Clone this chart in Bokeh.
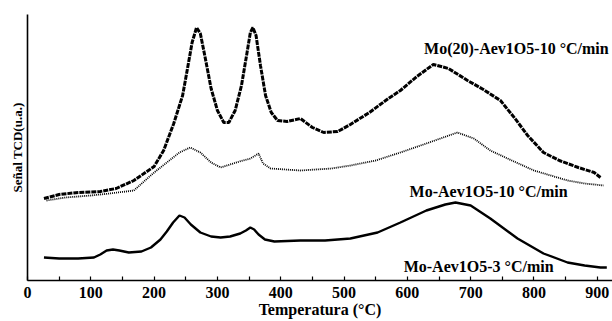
from bokeh.plotting import figure
from bokeh.models import Range1d, FixedTicker
from bokeh.core.properties import value
from bokeh.embed import file_html
from bokeh.resources import INLINE

# Curve 1: Mo(20)-Aev1O5-10 °C/min
t1 = [26, 50, 80, 115, 140, 168, 200, 215, 231, 245, 253, 260, 267, 273, 280, 290, 300, 310, 318,
      328, 338, 346, 352, 356, 361, 368, 376, 385, 395, 410, 431, 450, 468, 490, 510, 540, 570,
      589, 615, 641, 665, 695, 720, 747, 770, 790, 815, 840, 870, 895, 905]
s1 = [82, 86, 88, 89, 92, 100, 114, 130, 157, 185, 213, 238, 253, 247, 225, 192, 170, 158, 158,
      170, 195, 225, 248, 253, 245, 215, 185, 168, 160, 159, 162, 153, 148, 149, 156, 168, 182,
      190, 204, 216, 212, 200, 191, 180, 162, 145, 128, 120, 113, 108, 103]

# Curve 2: Mo-Aev1O5-10 °C/min
t2 = [30, 60, 100, 130, 168, 200, 220, 240, 257, 273, 290, 305, 320, 340, 352, 365, 372, 384,
      431, 480, 510, 550, 589, 630, 679, 705, 731, 765, 800, 853, 880, 910]
s2 = [80, 83, 85, 87, 90, 108, 118, 128, 133, 128, 118, 113, 116, 120, 122, 127, 117, 112,
      110, 112, 115, 120, 128, 137, 148, 142, 130, 120, 110, 100, 97, 95]

# Curve 3: Mo-Aev1O5-3 °C/min
t3 = [26, 50, 80, 105, 115, 125, 135, 145, 160, 180, 195, 210, 220, 230, 240, 248, 258, 273,
      290, 305, 320, 336, 345, 352, 358, 365, 375, 390, 431, 470, 510, 553, 589, 630, 660, 676,
      700, 731, 774, 815, 853, 880, 905, 915]
s3 = [23, 22, 22, 23, 26, 30, 31, 30, 28, 29, 33, 41, 49, 58, 65, 63, 56, 48,
      44, 43, 44, 47, 50, 53, 51, 46, 41, 39, 40, 40, 42, 48, 58, 70, 76, 78,
      75, 62, 42, 27, 18, 15, 13, 13]

labels = ["Mo(20)-Aev1O5-10 °C/min", "Mo-Aev1O5-10 °C/min", "Mo-Aev1O5-3 °C/min"]
x_ticks = [0, 100, 200, 300, 400, 500, 600, 700, 800, 900]

FONT = "Liberation Serif"

p = figure(width=612, height=321, output_backend="svg", toolbar_location=None,
           x_range=Range1d(0, 924), y_range=Range1d(0, 266),
           min_border_left=27, min_border_right=0, min_border_top=14, min_border_bottom=41)
p.outline_line_color = None
p.grid.visible = False
p.background_fill_color = "white"
p.border_fill_color = "white"

p.line(t1, s1, line_color="black", line_width=3, line_dash="5 1")
p.line(t2, s2, line_color="black", line_width=1.8, line_dash="1 1")
p.line(t3, s3, line_color="black", line_width=2.4)

# labels (right-aligned)
p.text(x=[918, 853, 831], y=[232, 89, 14], text=labels,
       text_font=value(FONT), text_font_style="bold", text_font_size="16px",
       text_align="right", text_baseline="middle", text_color="black")

xa = p.xaxis[0]
xa.ticker = FixedTicker(ticks=x_ticks, minor_ticks=list(range(50, 951, 100)))
xa.axis_line_width = 1.6
xa.axis_line_color = "black"
xa.major_tick_in = 4
xa.major_tick_out = 0
xa.minor_tick_in = 4
xa.minor_tick_out = 0
xa.major_tick_line_width = 1.2
xa.minor_tick_line_width = 1.2
xa.major_label_text_font = FONT
xa.major_label_text_font_style = "bold"
xa.major_label_text_font_size = "16px"
xa.major_label_text_color = "black"
xa.major_label_standoff = 6
xa.axis_label = "Temperatura (°C)"
xa.axis_label_text_font = FONT
xa.axis_label_text_font_style = "bold"
xa.axis_label_text_font_size = "16px"
xa.axis_label_text_color = "black"
xa.axis_label_standoff = 0

ya = p.yaxis[0]
ya.ticker = FixedTicker(ticks=[])
ya.major_tick_in = 0
ya.major_tick_out = 0
ya.minor_tick_in = 0
ya.minor_tick_out = 0
ya.major_label_text_font_size = "0px"
ya.axis_line_width = 1.6
ya.axis_line_color = "black"
ya.axis_label = "Señal TCD(u.a.)"
ya.axis_label_text_font = FONT
ya.axis_label_text_font_style = "bold"
ya.axis_label_text_font_size = "13px"
ya.axis_label_text_color = "black"
ya.axis_label_standoff = 3

open("out.html", "w").write(file_html(p, INLINE))
